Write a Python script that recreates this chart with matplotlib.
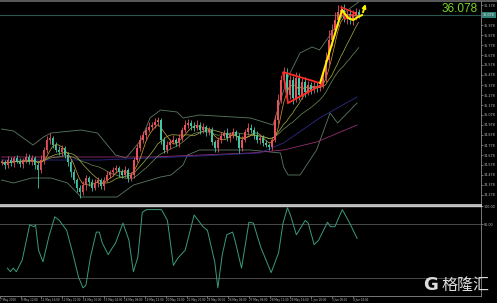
import numpy as np
import pandas as pd
import matplotlib
matplotlib.use("Agg")
import matplotlib.pyplot as plt
from matplotlib.ticker import FixedLocator, FormatStrFormatter
from matplotlib.transforms import blended_transform_factory

# ---- price data ----
first_open = 34.598
closes = [
    34.608, 34.578, 34.628, 34.598, 34.648, 34.618, 34.588, 34.628, 34.658, 34.608, 34.648,
    34.578, 34.528, 34.628, 34.728, 34.828, 34.848, 34.778,
    34.728, 34.708, 34.748, 34.678,
    34.608, 34.508, 34.428, 34.348, 34.308,
    34.378, 34.448, 34.408, 34.348, 34.398, 34.428, 34.368,
    34.428, 34.478, 34.508, 34.528, 34.548, 34.508, 34.478, 34.528, 34.448, 34.478,
    34.628, 34.748, 34.828,
    34.878, 34.928, 34.958, 34.978, 35.008, 35.028,
    34.828, 34.728,
    34.778, 34.808, 34.828, 34.798, 34.848,
    34.928, 34.978, 34.998, 34.968,
    34.948, 34.978, 34.928, 34.958, 34.908, 34.928,
    34.808, 34.748,
    34.828, 34.868, 34.898, 34.848, 34.878, 34.908, 34.868,
    34.748, 34.828, 34.908, 34.948, 34.928,
    34.878, 34.828, 34.848, 34.798, 34.778, 34.758,
    34.828, 35.028, 35.228, 35.428, 35.488,
    35.278, 35.428, 35.248, 35.448, 35.278, 35.408, 35.308, 35.378, 35.328, 35.368, 35.348, 35.378,
    35.448, 35.628, 35.828, 35.928, 36.028, 36.108,
    36.128, 36.048, 36.088, 36.028, 36.068, 36.108, 36.078,
]
wick_hi = [
    0.03, 0.02, 0.04, 0.03, 0.02, 0.03, 0.03, 0.02, 0.04, 0.03, 0.03,
    0.02, 0.03, 0.05, 0.03, 0.04, 0.05, 0.02,
    0.03, 0.04, 0.03, 0.02,
    0.03, 0.02, 0.03, 0.02, 0.03,
    0.04, 0.03, 0.02, 0.03, 0.04, 0.03, 0.02,
    0.03, 0.04, 0.02, 0.03, 0.03, 0.02, 0.03, 0.04, 0.02, 0.03,
    0.03, 0.04, 0.05,
    0.04, 0.03, 0.05, 0.03, 0.04, 0.03,
    0.02, 0.03,
    0.04, 0.03, 0.05, 0.02, 0.04,
    0.03, 0.05, 0.04, 0.03,
    0.04, 0.05, 0.03, 0.04, 0.02, 0.03,
    0.03, 0.02,
    0.03, 0.04, 0.03, 0.05, 0.03, 0.04, 0.02,
    0.03, 0.04, 0.03, 0.05, 0.04,
    0.03, 0.04, 0.02, 0.03, 0.03, 0.02,
    0.03, 0.05, 0.06, 0.05, 0.07,
    0.06, 0.05, 0.04, 0.06, 0.05, 0.04, 0.05, 0.04, 0.03, 0.05, 0.04, 0.03,
    0.05, 0.08, 0.10, 0.06, 0.08, 0.07,
    0.05, 0.06, 0.04, 0.05, 0.06, 0.04, 0.03,
]
wick_lo = [
    0.02, 0.04, 0.03, 0.03, 0.04, 0.02, 0.03, 0.04, 0.03, 0.02, 0.03,
    0.04, 0.18, 0.03, 0.04, 0.03, 0.04, 0.03,
    0.02, 0.03, 0.04, 0.03,
    0.04, 0.05, 0.03, 0.04, 0.06,
    0.03, 0.05, 0.04, 0.03, 0.02, 0.04, 0.03,
    0.04, 0.02, 0.03, 0.04, 0.03, 0.05, 0.03, 0.02, 0.04, 0.03,
    0.03, 0.02, 0.03,
    0.03, 0.04, 0.02, 0.03, 0.03, 0.04,
    0.04, 0.03,
    0.03, 0.04, 0.02, 0.03, 0.04,
    0.03, 0.02, 0.03, 0.04,
    0.03, 0.02, 0.04, 0.03, 0.04, 0.03,
    0.03, 0.04,
    0.04, 0.03, 0.02, 0.03, 0.04, 0.03, 0.04,
    0.05, 0.03, 0.02, 0.03, 0.03,
    0.04, 0.03, 0.04, 0.03, 0.02, 0.03,
    0.03, 0.02, 0.04, 0.03, 0.04,
    0.05, 0.04, 0.06, 0.04, 0.05, 0.04, 0.05, 0.03, 0.04, 0.03, 0.04, 0.03,
    0.03, 0.04, 0.05, 0.06, 0.05, 0.06,
    0.05, 0.04, 0.06, 0.04, 0.05, 0.04, 0.03,
]
last_price = 36.078

# Bollinger bands (bar index, price)
bb_up_idx = [0, 4, 10.5, 14, 16.5, 26.5, 32, 38, 41.5, 46.5, 49.5, 53, 58.5, 60.5, 66, 83, 90.5,
             93, 95.5, 99.5, 103.5, 106, 109.5, 114.5, 119]
bb_up_val = [34.938, 34.918, 34.778, 34.858, 34.898, 34.928, 34.898, 34.678, 34.648, 34.828, 35.048,
             35.128, 35.108, 35.048, 35.078, 35.048, 34.978, 35.228, 35.458, 35.698, 35.758, 35.728,
             35.878, 36.108, 36.208]
bb_lo_idx = [0, 4, 10, 16.5, 22, 26.5, 38.5, 44, 53, 56.5, 60.5, 62, 66, 83, 93, 94, 95.5, 99.5,
             105, 109.5, 112, 118.5]
bb_lo_val = [34.428, 34.398, 34.448, 34.448, 34.398, 34.258, 34.258, 34.378, 34.458, 34.478, 34.578,
             34.678, 34.728, 34.728, 34.698, 34.558, 34.478, 34.478, 34.728, 35.098, 34.998, 35.198]

# slow moving averages
navy_idx = [0, 33, 66, 86, 94, 106, 118.5]
navy_val = [34.628, 34.628, 34.668, 34.698, 34.798, 35.048, 35.258]
mag_idx = [0, 50, 83, 94, 105, 118.5]
mag_val = [34.658, 34.658, 34.698, 34.728, 34.808, 34.978]

# drawn objects
tri1_idx = [93.8, 95.5, 107.2]
tri1_val = [35.508, 35.198, 35.388]
tri2_idx = [113.2, 114.5, 117.8]
tri2_val = [36.158, 36.038, 36.098]
yel_idx = [106.2, 113.5, 115.5, 117.2, 118.8, 120.2]
yel_val = [35.398, 36.128, 36.048, 36.028, 36.058, 36.078]

# oscillator
osc_idx = [0, 1, 2, 3, 5, 7.5, 9, 9.5, 10.5, 12, 14, 16, 17.5, 20, 22, 24, 25.5, 26.5, 28, 30, 31,
           32, 34, 35.5, 36.5, 39, 41, 42.5, 44, 45.5, 47, 52, 54, 56, 57.5, 60, 63, 66, 67.5, 70,
           71, 72.5, 74, 76, 77, 79, 81.5, 83, 85.5, 89, 91.5, 93, 94.5, 95.5, 97.5, 100.5, 101.5,
           103.5, 105, 108, 109, 110.5, 113, 115.5, 118]
osc_val = [31, 27, 31, 27, 40, 79, 77, 79, 51, 38, 66, 88, 84, 73, 48, 21, 9, 12, 43, 71, 71,
           59, 46, 54, 59, 81, 62, 27, 43, 93, 96, 96, 84, 34, 42, 51, 90, 77, 73, 37,
           9, 46, 68, 71, 59, 31, 82, 81, 54, 26, 48, 81, 98, 90, 68, 84, 81,
           57, 62, 82, 77, 77, 96, 81, 64]

tick_labels = ["7 May 2020", "8 May 12:00", "11 May 16:00", "12 May 20:00", "14 May 00:00",
               "15 May 04:00", "18 May 08:00", "19 May 12:00", "20 May 16:00", "21 May 20:00",
               "25 May 00:00", "26 May 04:00", "27 May 08:00", "28 May 12:00", "29 May 16:00",
               "1 Jun 20:00", "3 Jun 00:00", "4 Jun 04:00"]

RED = "#e8505b"
TEAL = "#3fc8a6"
AX_TXT = "#bdbdbd"

closes = np.array(closes)
opens = np.concatenate([[first_open], closes[:-1]])
highs = np.maximum(opens, closes) + np.array(wick_hi)
lows = np.minimum(opens, closes) - np.array(wick_lo)
idx = np.arange(len(closes))
up = closes >= opens
cols = np.where(up, RED, TEAL)

ser = pd.Series(closes)
ma_fast = ser.rolling(5, min_periods=1).mean()
ma_mid = ser.rolling(12, min_periods=1).mean()
ma_slow = ser.rolling(20, min_periods=1).mean()

fig = plt.figure(figsize=(4.97, 3.03), dpi=100, facecolor="black")
ax = fig.add_axes([0, 98 / 303, 481 / 497, 204 / 303], facecolor="black")
ax2 = fig.add_axes([0, 7 / 303, 481 / 497, 90 / 303], facecolor="black")

x_lim = (-0.5, 159.8)

# ---- main price panel ----
ax.axhline(last_price, color="#2a5650", lw=0.8, zorder=1)
ax.plot(bb_up_idx, bb_up_val, color="#5c7a62", lw=0.6, zorder=2)
ax.plot(bb_lo_idx, bb_lo_val, color="#5c7a62", lw=0.6, zorder=2)
ax.plot(mag_idx, mag_val, color="#93306f", lw=0.6, zorder=2)
ax.plot(navy_idx, navy_val, color="#2c2c8a", lw=0.6, zorder=2)
ax.plot(idx, ma_slow, color="#6f8f55", lw=0.5, zorder=2)
ax.plot(idx, ma_mid, color="#a8b040", lw=0.5, zorder=2)
ax.plot(idx, ma_fast, color="#d9a030", lw=0.5, zorder=2)

ax.vlines(idx, lows, highs, colors=cols, lw=0.6, zorder=3)
ax.bar(idx, np.maximum(np.abs(closes - opens), 0.005), bottom=np.minimum(opens, closes),
       width=0.65, color=cols, linewidth=0, zorder=4)

ax.fill(tri1_idx, tri1_val, fill=False, edgecolor="#ff2a2a", lw=1.3, zorder=5)
ax.fill(tri2_idx, tri2_val, fill=False, edgecolor="#ff2a2a", lw=1.1, zorder=5)
ax.plot(yel_idx, yel_val, color="#ffee00", lw=1.5, zorder=6, solid_capstyle="round")
ax.annotate("", xy=(121.6, 36.215), xytext=(yel_idx[-1], yel_val[-1]),
            arrowprops=dict(arrowstyle="-|>", color="#ffee00", lw=1.4, mutation_scale=5),
            annotation_clip=False, zorder=6)

ax.set_xlim(*x_lim)
ax.set_ylim(34.178, 36.218)
ax.yaxis.tick_right()
ticks = [round(36.178 - 0.1 * k, 3) for k in range(20) if k != 1]
ax.yaxis.set_major_locator(FixedLocator(ticks))
ax.yaxis.set_major_formatter(FormatStrFormatter("%.3f"))
ax.tick_params(axis="y", colors=AX_TXT, labelsize=2.4, length=1.2, width=0.4, pad=1)
ax.set_xticks([])
for s in ("left", "top"):
    ax.spines[s].set_visible(False)
ax.spines["right"].set_color("#8a8a8a")
ax.spines["right"].set_linewidth(0.6)
ax.spines["bottom"].set_color("#c8c8c8")
ax.spines["bottom"].set_linewidth(1.3)

tr = blended_transform_factory(ax.transAxes, ax.transData)
ax.text(1.004, last_price, f"{last_price:.3f}", transform=tr, fontsize=2.4, color="#e8e8e8",
        va="center", ha="left",
        bbox=dict(boxstyle="square,pad=0.25", facecolor="#2f7f76", edgecolor="none"))
ax.text(0.994, 0.96, f"{last_price:.3f}", transform=ax.transAxes, fontsize=8.5,
        family="Liberation Sans", color="#79d42a", ha="right", va="center")

# ---- oscillator panel ----
ax2.axhline(80, color="#555555", lw=0.6)
ax2.axhline(20, color="#555555", lw=0.6)
ax2.plot(osc_idx, osc_val, color="#3a9a80", lw=0.7)
ax2.set_xlim(*x_lim)
ax2.set_ylim(0, 100)
ax2.yaxis.tick_right()
ax2.set_yticks([80, 100])
ax2.yaxis.set_major_formatter(FormatStrFormatter("%.2f"))
ax2.tick_params(axis="y", colors=AX_TXT, labelsize=2.4, length=1.2, width=0.4, pad=1)
tick_pos = [-2.5 + 7 * k for k in range(len(tick_labels))]
ax2.set_xticks(tick_pos)
ax2.set_xticklabels(tick_labels, ha="left")
ax2.tick_params(axis="x", colors=AX_TXT, labelsize=2.0, length=1.2, width=0.4, pad=0.6)
ax2.spines["left"].set_visible(False)
ax2.spines["top"].set_color("#c8c8c8")
ax2.spines["top"].set_linewidth(1.0)
for s in ("right", "bottom"):
    ax2.spines[s].set_color("#8a8a8a")
    ax2.spines[s].set_linewidth(0.6)

# top frame line
fig.add_artist(plt.Line2D([0, 1], [1 - 0.8 / 303, 1 - 0.8 / 303], color="#6a6a6a", lw=1.2))

# watermark
fig.text(423 / 497, 1 - 285 / 303, "G", fontsize=13, weight="bold", family="DejaVu Sans",
         color="#dcdcdc", va="center", ha="left")
fig.text(442 / 497, 1 - 285 / 303, "格隆汇", fontsize=11.5, family=["Noto Sans CJK SC", "DejaVu Sans"],
         color="#dcdcdc", va="center", ha="left")

fig.savefig("out.png", dpi=100, facecolor="black")
